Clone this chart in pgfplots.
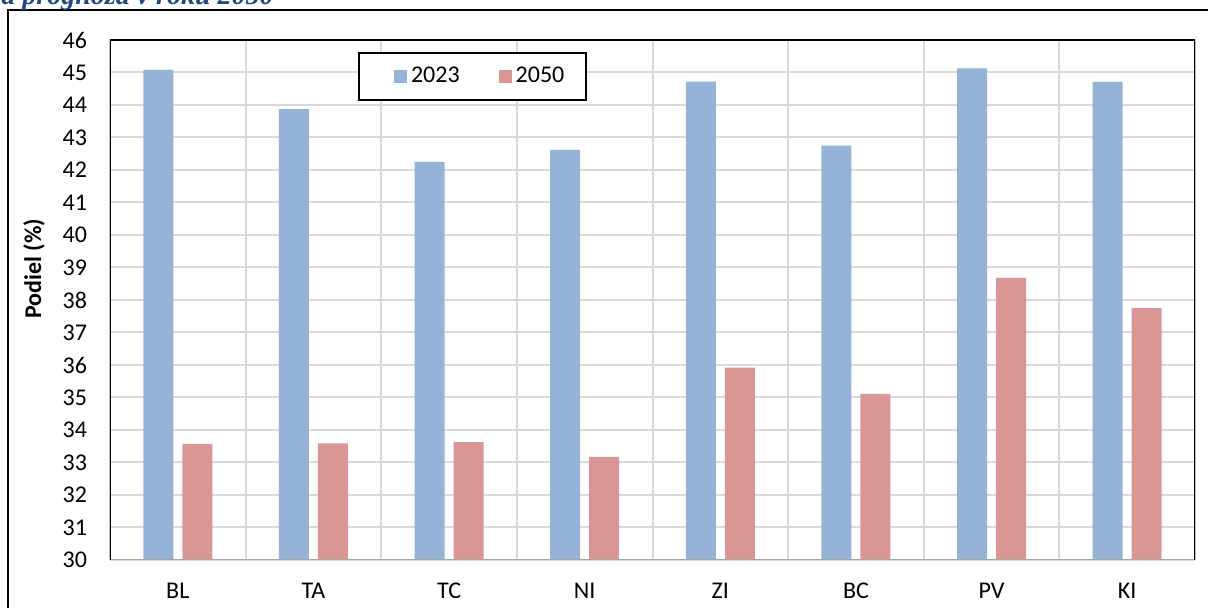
\documentclass[border=0pt]{standalone}
\usepackage{fontspec}
\setmainfont{Carlito}
\newfontfamily\titlefont{Liberation Serif}
\usepackage{pgfplots}
\pgfplotsset{compat=1.18}
\definecolor{b23}{RGB}{149,179,215}
\definecolor{r50}{RGB}{217,150,148}
\definecolor{gridc}{RGB}{217,217,217}
\definecolor{titleblue}{RGB}{31,73,125}
\begin{document}
\begin{tikzpicture}[x=0.5pt,y=0.5pt]
\useasboundingbox (0,0) rectangle (1208,608);
\draw[line width=1pt] (8,-20) -- (8,598) -- (1230,598);
\node[anchor=base west, inner sep=0, font=\titlefont\bfseries\itshape\fontsize{14}{16}\selectfont, text=titleblue] at (1,603) {a prognóza v roku 2050};
\begin{axis}[
  at={(55pt,24pt)}, anchor=south west,
  scale only axis, width=542.5pt, height=260pt,
  ybar=4.5pt, bar width=15pt,
  ymin=30, ymax=46, ytick={30,...,46},
  xmin=-0.5, xmax=7.5, xtick={0,...,7},
  xticklabels={BL,TA,TC,NI,ZI,BC,PV,KI},
  minor xtick={-0.5,0.5,...,7.5},
  xminorgrids, ymajorgrids,
  grid style={gridc, line width=1pt},
  minor grid style={gridc, line width=1pt},
  major tick length=0, minor tick length=0,
  axis line style={draw=none},
  /pgf/number format/assume math mode=true,
  tick label style={font=\fontsize{12}{14}\selectfont},
  yticklabel style={xshift=-8pt},
  xticklabel style={yshift=-8pt},
  ylabel={\textbf{Podiel (\%)}},
  ylabel style={at={(axis description cs:-0.07,0.56)}, anchor=center, font=\fontsize{12}{14}\selectfont},
  legend style={at={(axis description cs:0.2286,0.977)}, anchor=north west,
    draw=black, line width=1pt, font=\fontsize{12}{14}\selectfont,
    inner xsep=9pt, inner ysep=5pt,
    /tikz/every even column/.append style={column sep=9pt}},
  legend columns=2,
]
\addplot[fill=b23, draw=none, legend image code/.code={\path (0pt,0pt); \fill[b23] (8.5pt,-3.25pt) rectangle (15pt,3.25pt);}]
  coordinates {(0,45.08) (1,43.87) (2,42.25) (3,42.62) (4,44.72) (5,42.75) (6,45.13) (7,44.71)};
\addplot[fill=r50, draw=none, legend image code/.code={\path (0pt,0pt); \fill[r50] (8.5pt,-3.25pt) rectangle (15pt,3.25pt);}]
  coordinates {(0,33.57) (1,33.59) (2,33.63) (3,33.17) (4,35.92) (5,35.11) (6,38.68) (7,37.75)};
\legend{2023,2050}
\draw[gray!70, line width=0.75pt] (rel axis cs:0,0) -- (rel axis cs:1,0);
\draw[black, line width=1pt] (rel axis cs:0,0) -- (rel axis cs:0,1) -- (rel axis cs:1,1) -- (rel axis cs:1,0);
\end{axis}
\end{tikzpicture}
\end{document}
